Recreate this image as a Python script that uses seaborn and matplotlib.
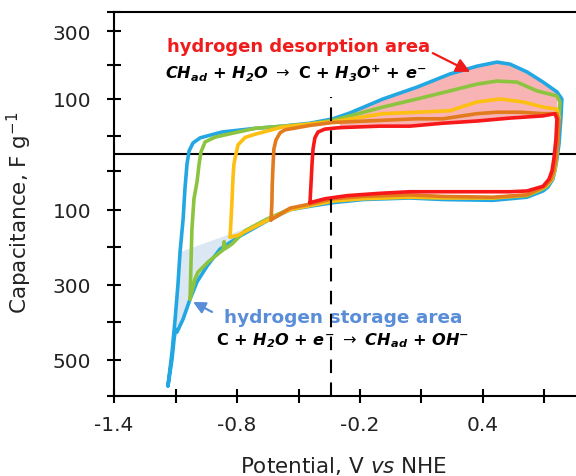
import numpy as np
import pandas as pd
import matplotlib
matplotlib.use("Agg")
import matplotlib.pyplot as plt
import seaborn as sns
from matplotlib.ticker import FixedLocator, FuncFormatter

# Cyclic voltammograms: potential (V vs NHE) and capacitance (F/g)
# each loop = anodic branch (E rising) + cathodic branch (E falling)
blue_up_E = [-1.137, -1.127, -1.117, -1.102, -1.088, -1.078, -1.063, -1.054, -1.044, -1.034,
             -1.015, -0.980, -0.941, -0.873, -0.712, -0.576, -0.444, -0.332, -0.249, -0.088,
             0.078, 0.239, 0.371, 0.468, 0.532, 0.615, 0.693, 0.761, 0.785]
blue_up_C = [-569, -524, -479, -391, -298, -213, -125, -73, -30, 8,
             30, 44, 50, 55, 60, 63, 67, 73, 81, 100,
             135, 174, 197, 209, 203, 180, 150, 121, 100]
blue_dn_E = [0.785, 0.780, 0.771, 0.761, 0.751, 0.741, 0.717, 0.693, 0.615, 0.449,
             0.205, 0.044, -0.185, -0.332, -0.429, -0.541, -0.654, -0.785, -0.883, -0.946,
             -0.995, -1.029, -1.063, -1.093, -1.100, -1.107, -1.117, -1.137]
blue_dn_C = [100, 73, 27, -15, -50, -61, -71, -76, -84, -88,
             -87, -85, -87, -91, -95, -100, -130, -170, -205, -250,
             -292, -338, -391, -426, -418, -444, -497, -569]

green_up_E = [-1.029, -1.024, -1.020, -1.010, -0.995, -0.985, -0.976, -0.956, -0.907, -0.844,
              -0.712, -0.576, -0.444, -0.332, -0.249, -0.088, 0.078, 0.239, 0.371, 0.468,
              0.566, 0.663, 0.761, 0.776]
green_up_C = [-338, -231, -151, -86, -64, -30, 5, 33, 46, 52,
              60, 63, 66, 71, 77, 89, 100, 124, 144, 153,
              150, 124, 109, 96]
green_dn_E = [0.776, 0.771, 0.761, 0.751, 0.737, 0.712, 0.678, 0.615, 0.449, 0.205,
              0.044, -0.185, -0.332, -0.429, -0.541, -0.654, -0.761, -0.824, -0.858, -0.863,
              -0.868, -0.941, -0.990, -1.005, -1.029]
green_dn_C = [96, 73, 14, -45, -61, -70, -75, -82, -85, -84,
              -83, -84, -88, -93, -99, -125, -156, -191, -204, -185,
              -207, -239, -266, -284, -338]

yellow_up_E = [-0.834, -0.829, -0.824, -0.820, -0.815, -0.805, -0.795, -0.761, -0.712, -0.576,
               -0.444, -0.332, -0.088, 0.078, 0.239, 0.371, 0.483, 0.595, 0.693, 0.761, 0.771]
yellow_up_C = [-173, -125, -86, -61, -30, 0, 25, 45, 52, 62,
               66, 69, 80, 82, 84, 96, 100, 96, 89, 86, 75]
yellow_dn_E = [0.771, 0.766, 0.761, 0.751, 0.737, 0.702, 0.615, 0.449, 0.205, 0.044,
               -0.185, -0.332, -0.429, -0.541, -0.639, -0.737, -0.795, -0.834]
yellow_dn_C = [75, 52, 0, -45, -61, -71, -81, -85, -85, -84,
               -86, -89, -94, -100, -125, -152, -168, -173]

orange_up_E = [-0.634, -0.630, -0.628, -0.624, -0.620, -0.610, -0.590, -0.566, -0.444, -0.332,
               -0.088, 0.078, 0.205, 0.371, 0.468, 0.580, 0.693, 0.761, 0.771]
orange_up_C = [-127, -93, -67, -30, 14, 38, 54, 58, 64, 68,
               71, 73, 73, 80, 82, 82, 80, 80, 70]
orange_dn_E = [0.771, 0.766, 0.756, 0.746, 0.732, 0.702, 0.615, 0.449, 0.205, 0.044,
               -0.185, -0.332, -0.429, -0.541, -0.634]
orange_dn_C = [70, 40, -15, -50, -61, -70, -81, -84, -83, -81,
               -83, -86, -92, -98, -127]

red_up_E = [-0.444, -0.439, -0.434, -0.429, -0.420, -0.405, -0.371, -0.298, -0.102, 0.044,
            0.205, 0.371, 0.532, 0.693, 0.751, 0.761]
red_up_C = [-91, -67, -30, 14, 44, 55, 59, 61, 63, 63,
            67, 70, 74, 77, 80, 73]
red_dn_E = [0.761, 0.756, 0.746, 0.737, 0.722, 0.693, 0.615, 0.532, 0.205, 0.044,
            -0.102, -0.263, -0.371, -0.444]
red_dn_C = [73, 40, -15, -50, -61, -70, -76, -77, -77, -77,
            -79, -82, -86, -91]

# tick marks
x_major = [-1.4, -0.8, -0.2, 0.4]
x_minor = [-1.1, -0.5, 0.1, 0.7]
y_major = [300, 100, -100, -300, -500]
y_minor = [200, 50, -50, -200, -400]

# regions
desorption_from = -0.30          # start of the shaded desorption area
storage_left = -1.078            # storage area chord on the anodic branch
storage_right = -0.654           # storage area chord on the cathodic branch
split_potential = -0.34
split_top = 106

colors = {"blue": "#22a7e3", "green": "#8cc43f", "yellow": "#fdbf12",
          "orange": "#e27a1e", "red": "#f7181a"}

sns.set_theme(style="ticks")
plt.rcParams.update({
    "font.family": ["DejaVu Sans"],
    "axes.unicode_minus": False,
    "mathtext.fontset": "dejavusans",
})

# non-uniform capacitance axis (compressed around zero)
SCALE_C = [-800, -500, -100, -50, 0, 50, 100, 300, 500]
SCALE_U = [-318.7, -206.0, -55.7, -16.7, 0.0, 18.3, 55.0, 122.7, 190.4]


def fwd(c):
    return np.interp(np.asarray(c, dtype=float), SCALE_C, SCALE_U)


def inv(u):
    return np.interp(np.asarray(u, dtype=float), SCALE_U, SCALE_C)


fig = plt.figure(figsize=(5.76, 4.77), dpi=100)
ax = fig.add_axes([0.198, 0.1677, 0.802, 0.805])
ax.set_yscale("function", functions=(fwd, inv))
ax.set_xlim(-1.4, 0.854)
ax.set_ylim(-596, 357)

# shaded hydrogen desorption area (between widest and narrowest window)
grid = np.linspace(desorption_from, blue_up_E[-2], 200)
top = np.interp(grid, blue_up_E, blue_up_C)
bot = np.interp(grid, red_up_E, red_up_C)
ax.fill_between(grid, bot, top, color="#f8b4b4", lw=0, zorder=1)

# shaded hydrogen storage area near the negative vertex
bdE, bdC = np.array(blue_dn_E), np.array(blue_dn_C)
buE, buC = np.array(blue_up_E), np.array(blue_up_C)
m_dn = bdE <= storage_right
m_up = buE <= storage_left
poly_E = np.r_[bdE[m_dn], buE[m_up]]
poly_C = np.r_[bdC[m_dn], buC[m_up]]
ax.fill(poly_E, poly_C, color="#dce7f4", lw=0, zorder=1)

ax.axhline(0, color="black", lw=1.5, zorder=2)

curves = [
    ("blue", blue_up_E, blue_up_C, blue_dn_E, blue_dn_C),
    ("green", green_up_E, green_up_C, green_dn_E, green_dn_C),
    ("yellow", yellow_up_E, yellow_up_C, yellow_dn_E, yellow_dn_C),
    ("orange", orange_up_E, orange_up_C, orange_dn_E, orange_dn_C),
    ("red", red_up_E, red_up_C, red_dn_E, red_dn_C),
]
for name, uE, uC, dE, dC in curves:
    df = pd.DataFrame({"E": np.r_[uE, dE], "C": np.r_[uC, dC]})
    sns.lineplot(data=df, x="E", y="C", sort=False, estimator=None, ax=ax,
                 color=colors[name], linewidth=2.6, zorder=3,
                 solid_joinstyle="round", solid_capstyle="round")

ax.plot([split_potential, split_potential], [ax.get_ylim()[0], split_top],
        color="black", lw=1.5, ls=(0, (6.5, 4.5)), zorder=4)

# axes styling
for side in ("top", "left", "bottom"):
    ax.spines[side].set_visible(True)
    ax.spines[side].set_linewidth(1.5)
    ax.spines[side].set_color("black")
ax.spines["right"].set_visible(False)

ax.xaxis.set_major_locator(FixedLocator(x_major))
ax.xaxis.set_minor_locator(FixedLocator(x_minor))
ax.xaxis.set_major_formatter(FuncFormatter(lambda v, p: f"{v:.1f}"))
ax.yaxis.set_major_locator(FixedLocator(y_major))
ax.yaxis.set_minor_locator(FixedLocator(y_minor + list(ax.get_ylim())))
ax.yaxis.set_major_formatter(FuncFormatter(lambda v, p: f"{abs(v):.0f}"))
ax.tick_params(which="both", direction="inout", length=10, width=1.5,
               color="black", labelcolor="#222222", labelsize=14.5)
ax.tick_params(axis="y", which="both", pad=11.5)
ax.tick_params(axis="x", which="both", pad=9)
ax.grid(False)
ax.set_facecolor("white")

ax.set_xlabel(r"Potential, V $\mathit{vs}$ NHE", fontsize=15.5, color="#222222")
ax.set_ylabel(r"Capacitance, F g$^{\mathregular{-1}}$", fontsize=15.5, color="#222222")
ax.xaxis.set_label_coords(0.496, -0.151)
ax.yaxis.set_label_coords(-0.173, 0.48)

# annotations
ax.text(0.400, 0.911, "hydrogen desorption area", transform=ax.transAxes,
        ha="center", va="center", fontsize=13, fontweight="bold", color="#f01c1c")
ax.text(0.394, 0.844,
        r"$\mathbfit{CH_{ad}}$ + $\mathbfit{H_2O}$ $\rightarrow$ C + $\mathbfit{H_3O^{+}}$ + $\mathbfit{e^{-}}$",
        transform=ax.transAxes, ha="center", va="center", fontsize=11.6,
        fontweight="bold", color="black")
ax.annotate("", xy=(0.771, 0.844), xytext=(0.690, 0.893), xycoords="axes fraction",
            arrowprops=dict(arrowstyle="-|>,head_length=0.7,head_width=0.35",
                            color="#f01c1c", lw=1.6, shrinkA=0, shrinkB=0))

ax.text(0.497, 0.206, "hydrogen storage area", transform=ax.transAxes,
        ha="center", va="center", fontsize=13.3, fontweight="bold", color="#5a8dd8")
ax.text(0.494, 0.146,
        r"C + $\mathbfit{H_2O}$ + $\mathbfit{e^{-}}$ $\rightarrow$ $\mathbfit{CH_{ad}}$ + $\mathbfit{OH^{-}}$",
        transform=ax.transAxes, ha="center", va="center", fontsize=11.6,
        fontweight="bold", color="black")
ax.annotate("", xy=(0.171, 0.245), xytext=(0.212, 0.219), xycoords="axes fraction",
            arrowprops=dict(arrowstyle="-|>,head_length=0.6,head_width=0.3",
                            color="#5a8dd8", lw=1.6, shrinkA=0, shrinkB=0))

fig.savefig("out.png", dpi=100)
